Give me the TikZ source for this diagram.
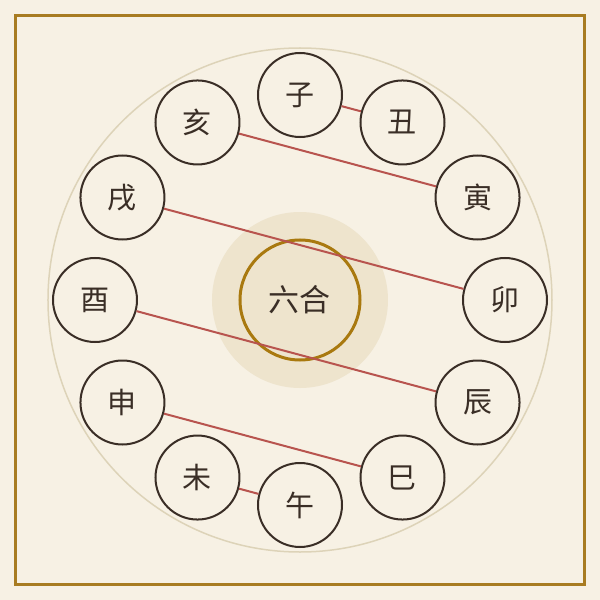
\documentclass[tikz,border=0pt]{standalone}
\usepackage{fontspec}
\newfontfamily\cjk{Noto Sans CJK SC}
\definecolor{paper}{HTML}{F7F1E4}
\definecolor{frame}{HTML}{A87C22}
\definecolor{ringline}{HTML}{DDD3B8}
\definecolor{halo}{HTML}{EEE4CD}
\definecolor{gold}{HTML}{A9790F}
\definecolor{ink}{HTML}{3A2E26}
\definecolor{pairline}{HTML}{B8544E}
\newcommand*{\RingRadius}{205}
\newcommand*{\PlaceBranches}[1]{% #1 = list of angle/name/text
  \foreach \ang/\name/\text in {#1} {
    \node [branch] (\name) at (\ang:\RingRadius) {\text};
    }%
}
\newcommand*{\PairBranches}[1]{% #1 = list of from/to
  \foreach \from/\to in {#1} {
    \draw [pair] (\from) -- (\to);
    }%
}
\tikzset{
  branch/.style={circle, draw=ink, fill=paper, line width=2pt, minimum size=84pt,
    inner sep=0pt, font=\cjk\fontsize{29}{29}\selectfont, text=ink},
  pair/.style={draw=pairline, line width=2pt}
}

\begin{document}
\begin{tikzpicture}[x=1pt,y=1pt]
    \fill [paper] (-300,-300) rectangle (300,300);
    \draw [frame, line width=3pt] (-284.5,-284.5) rectangle (284.5,284.5);
    \draw [ringline, line width=1.5pt] (0,0) circle (252);
    \fill [halo] (0,0) circle (88);
    \node [circle, draw=gold, line width=3pt, minimum size=120pt, inner sep=0pt,
      font=\cjk\fontsize{31}{31}\selectfont, text=ink] (center) at (0,0) {六合};

    \PlaceBranches{
       90/zi/子,
       60/chou/丑,
       30/yin/寅,
        0/mao/卯,
      -30/chen/辰,
      -60/si/巳,
      -90/wu/午,
     -120/wei/未,
     -150/shen/申,
      180/you/酉,
      150/xu/戌,
      120/hai/亥
    }

    \PairBranches{zi/chou, hai/yin, xu/mao, you/chen, shen/si, wei/wu}
\end{tikzpicture}
\end{document}
